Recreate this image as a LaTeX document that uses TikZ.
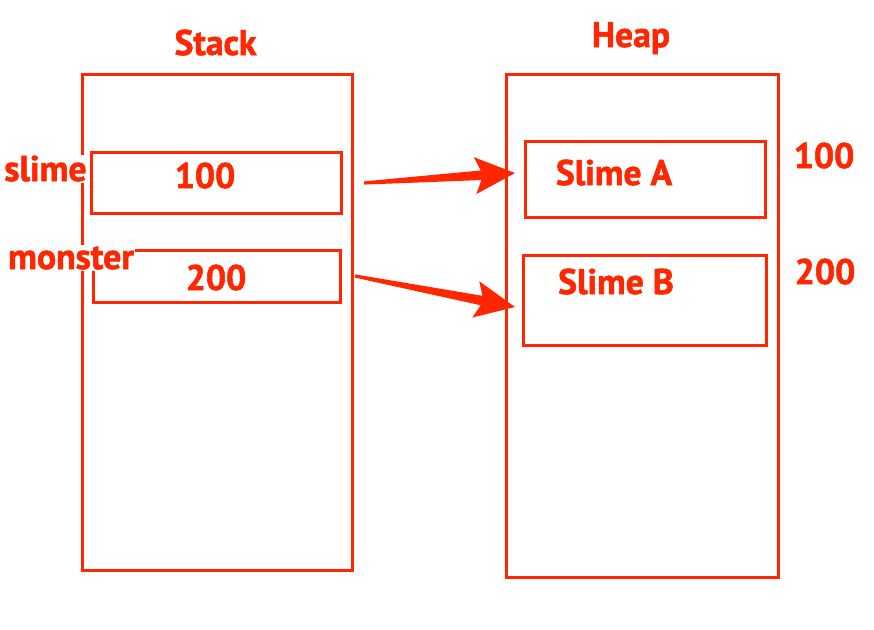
\documentclass[tikz,border=0pt]{standalone}
\usepackage{fontspec}
\setmainfont{PT Sans}[BoldFeatures={FakeBold=1.6}]
\usetikzlibrary{calc}
\definecolor{ored}{RGB}{255,38,0}
\newcommand\taperarrow[2]{%
  \fill[ored] let \p1=(#1), \p2=(#2),
    \n1={atan2(\y2-\y1,\x2-\x1)}, \n2={veclen(\x2-\x1,\y2-\y1)} in
    [shift={(\p1)}, rotate=\n1]
    (0pt,-1.6pt) -- ({\n2-34pt},-4.8pt) -- ({\n2-40pt},-18.5pt) -- ({\n2+0pt},0pt)
    -- ({\n2-40pt},18.5pt) -- ({\n2-34pt},4.8pt) -- (0pt,1.6pt) -- cycle;}
\begin{document}
\begin{tikzpicture}[x=1pt,y=-1pt,
  box/.style={draw=ored, line width=3pt, inner sep=0pt},
  lab/.style={text=ored, font=\bfseries\fontsize{35.6}{38}\selectfont, fill=white, inner sep=1pt, anchor=base},
  slab/.style={lab, font=\bfseries\fontsize{35.8}{38}\selectfont}]
\useasboundingbox (0,0) rectangle (874,629);
% frames
\node[box, minimum width=270pt, minimum height=496pt] (stack) at (217,322) {};
\node[box, minimum width=272pt, minimum height=503pt] (heap) at (642,325.5) {};
\node[box, minimum width=250pt, minimum height=61pt] (slimebox) at (216,182.5) {};
\node[box, minimum width=247pt, minimum height=52pt] (monsterbox) at (216.5,276) {};
\node[box, minimum width=240pt, minimum height=76pt] (slimeA) at (645,179) {};
\node[box, minimum width=243pt, minimum height=90pt] (slimeB) at (644.5,300) {};
% labels
\node[lab] (stacklab) at (215.5,55) {Stack};
\node[lab] (heaplab) at (631,47) {Heap};
\node[slab] (slimelab) at (45.5,181) {slime};
\node[slab] (monsterlab) at (71,269) {monster};
\node[lab] (v1) at (205,188) {100};
\node[lab] (v2) at (216,290) {200};
\node[lab] (namea) at (614,185) {Slime A};
\node[lab] (nameb) at (616,294) {Slime B};
\node[lab] (addra) at (824,168) {100};
\node[lab] (addrb) at (825,284) {200};
% arrows
\coordinate (a1s) at (364,183);
\coordinate (a1t) at (515,173);
\coordinate (a2s) at (355,276);
\coordinate (a2t) at (515,307);
\taperarrow{a1s}{a1t}
\taperarrow{a2s}{a2t}
\end{tikzpicture}
\end{document}
